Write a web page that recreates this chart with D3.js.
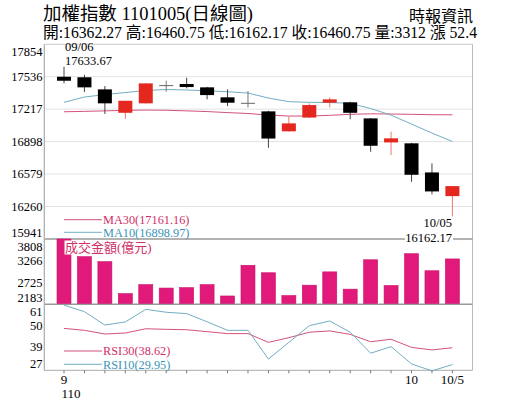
<!DOCTYPE html>
<html>
<head>
<meta charset="utf-8">
<script src="https://cdn.jsdelivr.net/npm/d3@7/dist/d3.min.js"></script>
<style>
  body { margin: 0; background: #fff; }
  text { font-family: "Liberation Serif", "Noto Sans CJK TC", serif; }
</style>
</head>
<body>
<div id="chart-container"></div>
<script>
// data (2021/09/06 - 2021/10/05)
var dates = ["09/06","09/07","09/08","09/09","09/10","09/13","09/14","09/15","09/16","09/17",
             "09/22","09/23","09/24","09/27","09/28","09/29","09/30","10/01","10/04","10/05"];
var opens  = [17535,17530,17411,17181,17274,17453,17464,17431,17333,17279,
              17195,16999,17134,17280,17284,17126,16890,16881,16595,16362.27];
var highs  = [17633.67,17555,17444,17300,17475,17496,17526,17435,17411,17395,
              17200,17146,17274,17333,17290,17130,16995,16885,16684,16460.75];
var lows   = [17470,17385,17169,17122,17270,17388,17421,17313,17247,17234,
              16837,16995,17130,17234,17117,16798,16765,16503,16379,16162.17];
var closes = [17496,17431,17274,17299,17470,17451,17434,17355,17280,17277,
              16928,17077,17257,17313,17181,16857,16930,16572,16408.35,16460.75];
var ma10 = [17284,17336,17360,17380,17400,17410,17405,17397,17388,17375,
            17326,17290,17284,17282,17274,17223,17158,17070,16982,16898.97];
var ma30 = [17191,17195,17200,17205,17208,17206,17200,17193,17183,17174,
            17159,17149,17149,17156,17166,17171,17169,17166,17162,17161.16];
var volumes = [3808,3368,3244,2448,2672,2587,2597,2672,2390,3154,
               2968,2400,2659,2990,2560,3291,2650,3442,3018,3312];
var rsi10 = [60.6,57.2,50.3,51.9,58.4,56.9,56.2,52.0,47.6,47.6,
             32.8,41.4,50.0,52.4,46.6,35.8,39.2,30.3,26.7,29.95];
var rsi30 = [48.6,47.6,45.7,46.2,48.4,48.1,47.9,46.9,45.9,45.9,
             41.4,43.8,46.6,47.3,45.5,41.7,43.0,38.8,37.5,38.62];
var price_ticks = [17854,17536,17217,16898,16579,16260,15941];
var vol_ticks = [3808,3266,2725,2183];
var rsi_ticks = [61,50,39,27];
var x_labels = [{i: 0, t: "9"}, {i: 17, t: "10"}, {i: 19, t: "10/5"}];

var svg_width = 515, svg_height = 413;
var left = 44.3, right = 472.5;
var price_top = 44.3, price_bottom = 239, vol_bottom = 304.3, rsi_bottom = 370.3;
var body_width = 14;
var red = "#e5281f", red_wick = "#e97a6b", pink = "#d4517d", blue = "#72aec4";
var pink_text = "#d02f68", blue_text = "#3b95b6", bar_color = "#e1197a";

var svg = d3.select("#chart-container")
  .append("svg")
  .attr("width", svg_width)
  .attr("height", svg_height);

var x = d3.scalePoint()
  .domain(d3.range(dates.length))
  .range([64, 452.4]);
var y = d3.scaleLinear().domain([15941, 17854]).range([price_bottom, price_top]);
var yv = d3.scaleLinear().domain([2183, 3808]).range([vol_bottom, price_bottom]);
var yr = d3.scaleLinear().domain([27, 61]).range([rsi_bottom, vol_bottom]);

// header
svg.append("text").attr("x", 43).attr("y", 20)
  .attr("font-size", "18px").attr("textLength", 210).attr("lengthAdjust", "spacingAndGlyphs")
  .text("加權指數 1101005(日線圖)");
svg.append("text").attr("x", 473).attr("y", 22).attr("text-anchor", "end")
  .attr("font-size", "16px")
  .text("時報資訊");
svg.append("text").attr("x", 43).attr("y", 37.5)
  .attr("font-size", "16px").attr("textLength", 434).attr("lengthAdjust", "spacingAndGlyphs")
  .text("開:16362.27 高:16460.75 低:16162.17 收:16460.75 量:3312 漲 52.4");

// grid
svg.selectAll(".grid")
  .data(price_ticks.slice(1, -1))
  .enter()
  .append("line")
  .attr("x1", left).attr("x2", right)
  .attr("y1", function(d) { return y(d); })
  .attr("y2", function(d) { return y(d); })
  .attr("stroke", "#e2e2e2").attr("stroke-width", 1);

// frame
svg.append("line").attr("x1", left).attr("x2", right).attr("y1", price_top).attr("y2", price_top)
  .attr("stroke", "#c8c8c8");
svg.append("line").attr("x1", right).attr("x2", right).attr("y1", price_top).attr("y2", rsi_bottom)
  .attr("stroke", "#bbb");
[price_bottom, vol_bottom].forEach(function(v) {
  svg.append("line").attr("x1", left).attr("x2", right).attr("y1", v).attr("y2", v)
    .attr("stroke", "#999").attr("stroke-width", 1.5);
});
svg.append("line").attr("x1", left).attr("x2", right).attr("y1", rsi_bottom).attr("y2", rsi_bottom)
  .attr("stroke", "#aaa");
svg.append("line").attr("x1", left).attr("x2", left).attr("y1", price_top).attr("y2", rsi_bottom)
  .attr("stroke", "#aaa").attr("stroke-width", 1.2);

// y labels, end labels pushed inside their panel
function axis_labels(ticks, scale) {
  svg.selectAll(null)
    .data(ticks)
    .enter()
    .append("text")
    .attr("x", 42.5)
    .attr("y", function(d, i) {
      var shift = i === 0 ? 7.5 : (i === ticks.length - 1 ? -6 : 0);
      return scale(d) + shift;
    })
    .attr("text-anchor", "end")
    .attr("dominant-baseline", "central")
    .attr("font-size", "12.5px")
    .text(function(d) { return d; });
}
axis_labels(price_ticks, y);
axis_labels(vol_ticks, yv);
axis_labels(rsi_ticks, yr);

// moving averages
var price_line = d3.line()
  .x(function(d, i) { return x(i); })
  .y(function(d) { return y(d); });
svg.append("path").attr("d", price_line(ma30)).attr("fill", "none")
  .attr("stroke", pink).attr("stroke-width", 1);
svg.append("path").attr("d", price_line(ma10)).attr("fill", "none")
  .attr("stroke", blue).attr("stroke-width", 1);

// candles
var candles = dates.map(function(d, i) {
  return {date: d, o: opens[i], h: highs[i], l: lows[i], c: closes[i]};
});
function candle_color(d) {
  if (Math.abs(d.c - d.o) < 5) return "#666";
  return d.c > d.o ? red : "#000";
}
var g = svg.selectAll(".candle")
  .data(candles)
  .enter()
  .append("g")
  .attr("class", "candle");
g.append("line")
  .attr("x1", function(d, i) { return x(i); })
  .attr("x2", function(d, i) { return x(i); })
  .attr("y1", function(d) { return y(d.h); })
  .attr("y2", function(d) { return y(d.l); })
  .attr("stroke", function(d) {
    if (Math.abs(d.c - d.o) < 5) return "#777";
    return d.c > d.o ? red_wick : "#444";
  })
  .attr("stroke-width", 1);
g.append("rect")
  .attr("x", function(d, i) { return x(i) - body_width / 2; })
  .attr("y", function(d) { return y(Math.max(d.o, d.c)); })
  .attr("width", body_width)
  .attr("height", function(d) { return Math.max(1, Math.abs(y(d.o) - y(d.c))); })
  .attr("fill", candle_color);

// MA legend
var legend = [{t: "MA30(17161.16)", c: pink, tc: pink_text, y: 219.7},
              {t: "MA10(16898.97)", c: blue, tc: blue_text, y: 232.3}];
legend.forEach(function(d) {
  svg.append("line").attr("x1", 64).attr("x2", 102).attr("y1", d.y).attr("y2", d.y)
    .attr("stroke", d.c).attr("stroke-width", 1);
  svg.append("text").attr("x", 103).attr("y", d.y + 4.3)
    .attr("font-size", "12.3px").attr("fill", d.tc).text(d.t);
});

// high / low notes
svg.append("text").attr("x", 65).attr("y", 50.7).attr("font-size", "12.5px").text(dates[0]);
svg.append("text").attr("x", 65).attr("y", 65).attr("font-size", "12.5px").text(highs[0].toFixed(2));
svg.append("text").attr("x", 452).attr("y", 226.7).attr("text-anchor", "end")
  .attr("font-size", "12.5px").text(dates[19]);
svg.append("rect").attr("x", 405).attr("y", 232).attr("width", 48).attr("height", 10).attr("fill", "#fff");
svg.append("text").attr("x", 452).attr("y", 241.5).attr("text-anchor", "end")
  .attr("font-size", "12.5px").text(lows[19].toFixed(2));

// turnover bars
svg.selectAll(".bar")
  .data(volumes)
  .enter()
  .append("rect")
  .attr("class", "bar")
  .attr("x", function(d, i) { return x(i) - body_width / 2; })
  .attr("y", function(d) { return yv(d); })
  .attr("width", body_width)
  .attr("height", function(d) { return yv(2183) - yv(d) - 0.8; })
  .attr("fill", bar_color)
  .attr("stroke", "#c8106a").attr("stroke-width", 0.6);
svg.append("rect").attr("x", 64.5).attr("y", 240.5).attr("width", 87).attr("height", 14)
  .attr("fill", "#fff");
svg.append("text").attr("x", 65).attr("y", 252.3)
  .attr("font-size", "13px").attr("fill", pink_text).text("成交金額(億元)");

// RSI
var rsi_line = d3.line()
  .x(function(d, i) { return x(i); })
  .y(function(d) { return yr(d); });
svg.append("path").attr("d", rsi_line(rsi30)).attr("fill", "none")
  .attr("stroke", pink).attr("stroke-width", 1);
svg.append("path").attr("d", rsi_line(rsi10)).attr("fill", "none")
  .attr("stroke", blue).attr("stroke-width", 1);
var rsi_legend = [{t: "RSI30(38.62)", c: pink, tc: pink_text, y: 351},
                  {t: "RSI10(29.95)", c: blue, tc: blue_text, y: 364.3}];
rsi_legend.forEach(function(d) {
  svg.append("line").attr("x1", 64).attr("x2", 102).attr("y1", d.y).attr("y2", d.y)
    .attr("stroke", d.c).attr("stroke-width", 1);
  svg.append("text").attr("x", 103).attr("y", d.y + 4.3)
    .attr("font-size", "12.3px").attr("fill", d.tc).text(d.t);
});

// x axis ticks and labels
svg.selectAll(".x-tick")
  .data(dates)
  .enter()
  .append("line")
  .attr("x1", function(d, i) { return x(i); })
  .attr("x2", function(d, i) { return x(i); })
  .attr("y1", rsi_bottom).attr("y2", rsi_bottom + 3)
  .attr("stroke", "#777");
svg.selectAll(".x-label")
  .data(x_labels)
  .enter()
  .append("text")
  .attr("x", function(d) { return x(d.i); })
  .attr("y", 384)
  .attr("text-anchor", "middle")
  .attr("font-size", "13px")
  .text(function(d) { return d.t; });
svg.append("text").attr("x", x(0) - 2.5).attr("y", 398)
  .attr("font-size", "13px").text("110");
</script>
</body>
</html>
